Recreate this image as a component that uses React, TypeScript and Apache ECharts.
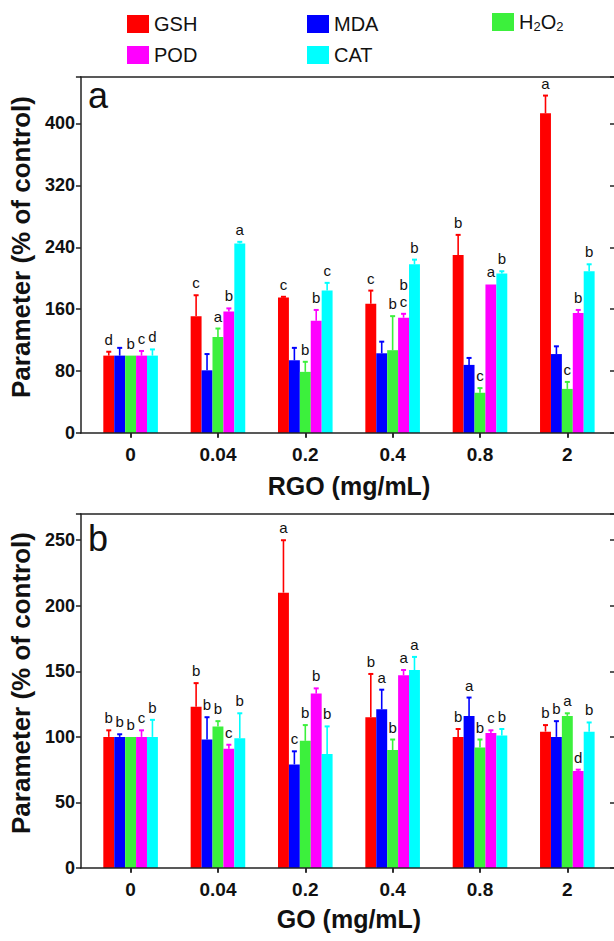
import React, { useEffect, useRef } from 'react';
import * as echarts from 'echarts';

const categories = ['0', '0.04', '0.2', '0.4', '0.8', '2'];
const seriesNames = ['GSH', 'MDA', 'H2O2', 'POD', 'CAT'];
const seriesColors = ['#FF0000', '#0000FF', '#3CF03C', '#FF00FF', '#00FFFF'];

// Panel a: RGO (mean and SD, % of control)
const rgoGSH = [100, 151, 175, 167, 230, 413];
const rgoGSHsd = [5, 27, 1, 17, 26, 23];
const rgoMDA = [100, 81, 94, 103, 88, 102];
const rgoMDAsd = [10, 21, 16, 15, 9, 10];
const rgoH2O2 = [100, 124, 79, 107, 52, 57];
const rgoH2O2sd = [0, 11, 13, 44, 6, 9];
const rgoPOD = [100, 157, 145, 149, 192, 155];
const rgoPODsd = [6, 4, 14, 5, 0, 4];
const rgoCAT = [100, 245, 184, 218, 206, 209];
const rgoCATsd = [8, 2, 10, 6, 3, 9];
const rgoLetGSH = ['d', 'c', 'c', 'c', 'b', 'a'];
const rgoLetMDA = ['', '', '', '', '', ''];
const rgoLetH2O2 = ['b', 'a', 'b', 'b', 'c', 'c'];
const rgoLetPOD = ['c', 'b', 'b', 'b\nc', 'a', 'b'];
const rgoLetCAT = ['d', 'a', 'c', 'b', 'b', 'b'];

// Panel b: GO
const goGSH = [100, 123, 210, 115, 100, 104];
const goGSHsd = [5, 18, 40, 33, 6, 5];
const goMDA = [100, 98, 79, 121, 116, 100];
const goMDAsd = [2, 17, 10, 15, 14, 12];
const goH2O2 = [100, 108, 97, 90, 92, 116];
const goH2O2sd = [0, 4, 12, 8, 6, 2];
const goPOD = [100, 91, 133, 147, 103, 74];
const goPODsd = [5, 3, 4, 4, 2, 1];
const goCAT = [100, 99, 87, 151, 101, 104];
const goCATsd = [13, 19, 21, 10, 5, 7];
const goLetGSH = ['b', 'b', 'a', 'b', 'b', 'b'];
const goLetMDA = ['b', 'b', 'c', 'a', 'a', 'b'];
const goLetH2O2 = ['b', 'b', 'b', 'b', 'b', 'a'];
const goLetPOD = ['c', 'c', 'b', 'a', 'c', 'd'];
const goLetCAT = ['b', 'b', 'b', 'a', 'b', 'b'];

const FONT = 'Liberation Sans, Arial, sans-serif';
const INK = '#111';
const AXIS = '#222';

const panels = [
  {
    means: [rgoGSH, rgoMDA, rgoH2O2, rgoPOD, rgoCAT],
    sds: [rgoGSHsd, rgoMDAsd, rgoH2O2sd, rgoPODsd, rgoCATsd],
    letters: [rgoLetGSH, rgoLetMDA, rgoLetH2O2, rgoLetPOD, rgoLetCAT],
    xName: 'RGO (mg/mL)',
    max: 460,
    interval: 80,
    top: 77,
    height: 356,
    tag: 'a',
    tagY: 95,
    nameGap: 40,
  },
  {
    means: [goGSH, goMDA, goH2O2, goPOD, goCAT],
    sds: [goGSHsd, goMDAsd, goH2O2sd, goPODsd, goCATsd],
    letters: [goLetGSH, goLetMDA, goLetH2O2, goLetPOD, goLetCAT],
    xName: 'GO (mg/mL)',
    max: 270,
    interval: 50,
    top: 514,
    height: 354,
    tag: 'b',
    tagY: 538,
    nameGap: 38,
  },
];

const GRID_LEFT = 86;
const GRID_RIGHT = 3;
const FRAME_LEFT = 80;
const FRAME_RIGHT = 616;
const BAR_FRAC = 0.125;

function buildOption() {
  const grid = panels.map((p) => ({ left: GRID_LEFT, right: GRID_RIGHT, top: p.top, height: p.height }));
  const lineStyle = { color: AXIS, width: 1.5 };
  const xAxis: any[] = [];
  const yAxis: any[] = [];
  const series: any[] = [];
  const graphic: any[] = [];

  panels.forEach((p, g) => {
    xAxis.push({
      type: 'category',
      gridIndex: g,
      data: categories,
      position: 'bottom',
      axisLine: { show: false },
      axisTick: { show: true, alignWithLabel: true, length: 5, lineStyle },
      axisLabel: { fontSize: 19, fontWeight: 'bold', color: INK, fontFamily: FONT, margin: 12 },
      splitLine: { show: false },
      name: p.xName,
      nameLocation: 'middle',
      nameGap: p.nameGap,
      nameTextStyle: { fontSize: 25, fontWeight: 'bold', color: INK, fontFamily: FONT },
    });
    xAxis.push({
      type: 'category',
      gridIndex: g,
      data: categories,
      position: 'top',
      axisLine: { show: false },
      axisTick: { show: true, inside: true, alignWithLabel: true, length: 4, lineStyle },
      axisLabel: { show: false },
      splitLine: { show: false },
    });
    yAxis.push({
      type: 'value',
      gridIndex: g,
      position: 'left',
      offset: GRID_LEFT - FRAME_LEFT,
      min: 0,
      max: p.max,
      interval: p.interval,
      axisLine: { show: true, lineStyle },
      axisTick: { show: true, length: 5, lineStyle },
      axisLabel: {
        fontSize: 18,
        fontWeight: 'bold',
        color: INK,
        fontFamily: FONT,
        margin: 6,
        formatter: (v: number) => (v % p.interval === 0 ? String(v) : ''),
      },
      splitLine: { show: false },
      name: 'Parameter (% of control)',
      nameLocation: 'middle',
      nameGap: 40,
      nameTextStyle: { fontSize: 26, fontWeight: 'bold', color: INK, fontFamily: FONT, padding: [0, 0, 0, 16] },
    });
    yAxis.push({
      type: 'value',
      gridIndex: g,
      position: 'right',
      offset: FRAME_RIGHT - (614 - GRID_RIGHT),
      min: 0,
      max: p.max,
      interval: p.interval,
      axisLine: { show: true, lineStyle },
      axisTick: { show: true, inside: true, length: 6, lineStyle },
      axisLabel: { show: false },
      splitLine: { show: false },
    });

    p.means.forEach((vals, k) => {
      series.push({
        type: 'bar',
        name: seriesNames[k],
        xAxisIndex: 2 * g,
        yAxisIndex: 2 * g,
        data: vals,
        barWidth: BAR_FRAC * 100 + '%',
        barGap: '0%',
        itemStyle: { color: seriesColors[k] },
        z: 2,
      });
    });

    const items: any[] = [];
    p.means.forEach((vals, k) => {
      vals.forEach((m, i) => {
        items.push({ cat: i, mean: m, top: m + p.sds[k][i], k, letter: p.letters[k][i] });
      });
    });

    series.push({
      type: 'custom',
      xAxisIndex: 2 * g,
      yAxisIndex: 2 * g,
      silent: true,
      clip: false,
      z: 3,
      encode: { x: 0, y: 1 },
      data: items.map((it) => [it.cat, it.top]),
      renderItem: (params: any, api: any) => {
        const it = items[params.dataIndex];
        const base = api.coord([it.cat, it.mean]);
        const topPt = api.coord([it.cat, it.top]);
        const band = api.size([1, 0])[0];
        const bw = band * BAR_FRAC;
        const x = base[0] + (it.k - 2) * bw;
        const color = seriesColors[it.k];
        const children: any[] = [];
        if (it.top > it.mean) {
          children.push({
            type: 'line',
            shape: { x1: x, y1: base[1], x2: x, y2: topPt[1] },
            style: { stroke: color, lineWidth: 1.6 },
          });
          children.push({
            type: 'line',
            shape: { x1: x - 2.5, y1: topPt[1], x2: x + 2.5, y2: topPt[1] },
            style: { stroke: color, lineWidth: 2 },
          });
        }
        if (it.letter) {
          children.push({
            type: 'text',
            x: x,
            y: topPt[1] - 4,
            style: {
              text: it.letter,
              fill: INK,
              font: `15px ${FONT}`,
              align: 'center',
              verticalAlign: 'bottom',
              lineHeight: 17,
            },
          });
        }
        return { type: 'group', children };
      },
    });

    graphic.push(
      {
        type: 'line',
        shape: { x1: FRAME_LEFT, y1: p.top, x2: FRAME_RIGHT, y2: p.top },
        style: { stroke: AXIS, lineWidth: 1.5 },
        z: 10,
      },
      {
        type: 'line',
        shape: { x1: FRAME_LEFT, y1: p.top + p.height, x2: FRAME_RIGHT, y2: p.top + p.height },
        style: { stroke: AXIS, lineWidth: 1.5 },
        z: 10,
      },
      {
        type: 'text',
        x: 88,
        y: p.tagY,
        style: { text: p.tag, font: `36px ${FONT}`, fill: INK, verticalAlign: 'middle' },
        z: 10,
      }
    );
  });

  const legendCommon = {
    orient: 'vertical',
    icon: 'rect',
    itemWidth: 22,
    itemHeight: 18,
    itemGap: 11,
    selectedMode: false,
    top: 9,
    textStyle: {
      fontSize: 20,
      color: INK,
      fontFamily: FONT,
      rich: { sub: { fontSize: 13, fontFamily: FONT, color: INK, padding: [8, 0, 0, 0] } },
    },
    formatter: (n: string) => (n === 'H2O2' ? 'H{sub|2}O{sub|2}' : n),
  };

  return {
    animation: false,
    backgroundColor: '#fff',
    legend: [
      { ...legendCommon, left: 122, data: ['GSH', 'POD'] },
      { ...legendCommon, left: 302, data: ['MDA', 'CAT'] },
      { ...legendCommon, left: 487, top: 7, data: ['H2O2'] },
    ],
    grid,
    xAxis,
    yAxis,
    series,
    graphic,
  };
}

export default function App() {
  const ref = useRef<HTMLDivElement>(null);
  useEffect(() => {
    if (!ref.current) return;
    const chart = echarts.init(ref.current, null, { renderer: 'svg' });
    chart.setOption(buildOption() as any);
    return () => chart.dispose();
  }, []);
  return (
    <div
      ref={ref}
      style={{ position: 'fixed', left: 0, top: 0, width: 614, height: 941, background: '#fff' }}
    />
  );
}
